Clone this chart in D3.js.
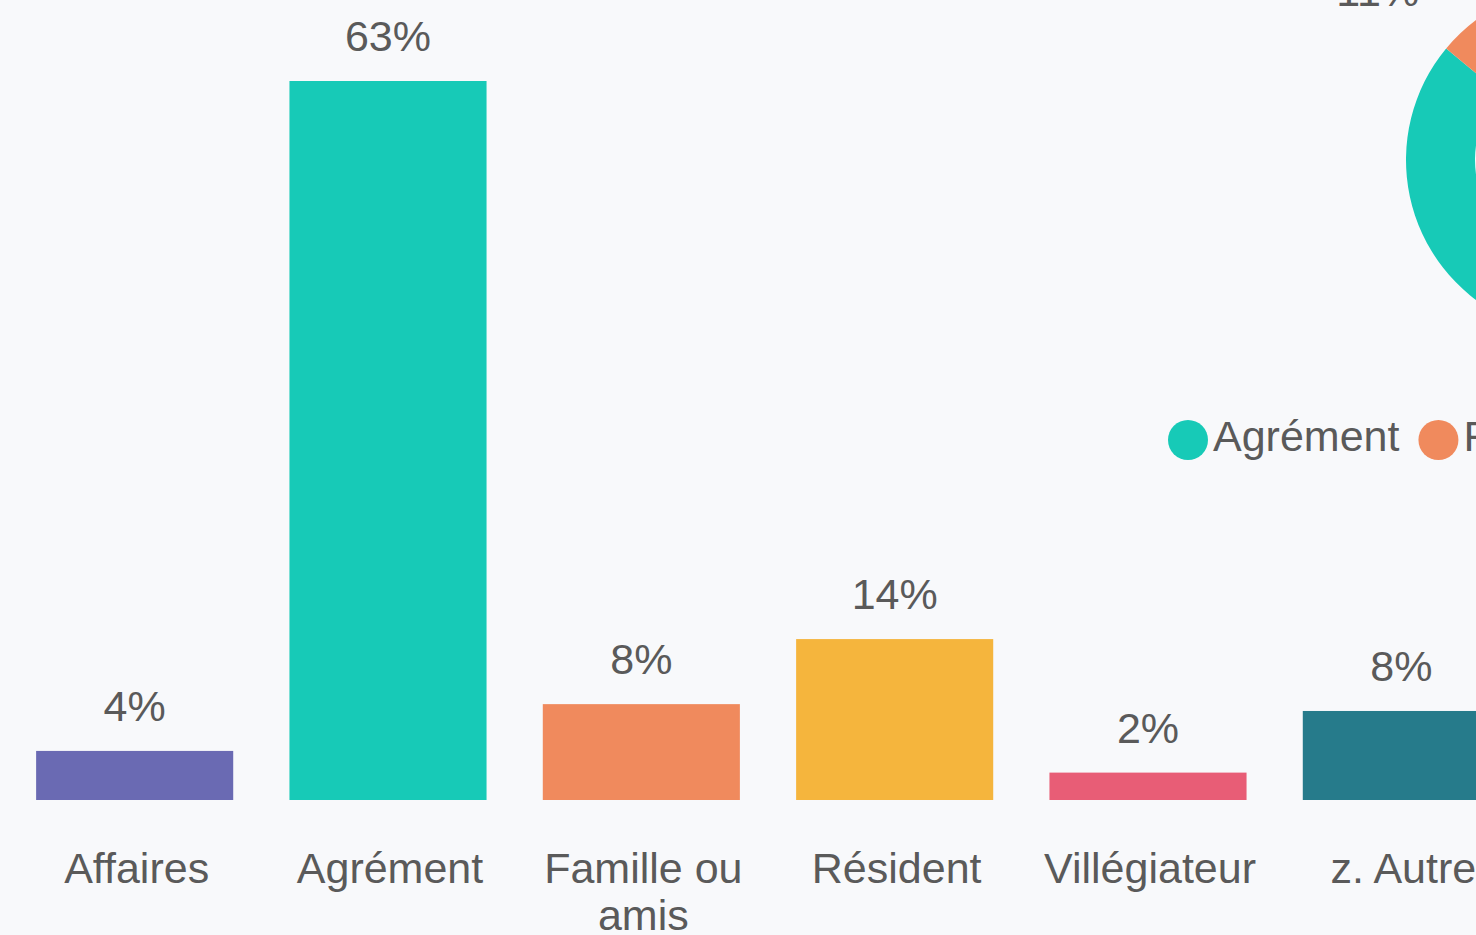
<!DOCTYPE html>
<html>
<head>
<meta charset="utf-8">
<script src="https://cdn.jsdelivr.net/npm/d3@7"></script>
<style>
  html, body { margin: 0; padding: 0; background: #f8f9fb; overflow: hidden; }
  svg { display: block; font-family: "Liberation Sans", Arial, sans-serif; }
</style>
</head>
<body>
<svg id="chart" width="1476" height="935"></svg>
<script>
// bar chart data
let categories = ["Affaires", "Agrément", "Famille ou amis", "Résident", "Villégiateur", "z. Autre"];
let values = [4.3, 63, 8.4, 14.1, 2.4, 7.8];
let colors = ["#6a6ab3", "#17cab7", "#f08a5d", "#f5b53d", "#e85d76", "#267b8b"];

// donut data
let pieLabels = ["Agrément", "Famille ou amis", "Résident"];
let pieValues = [86, 11, 3];
let pieColors = ["#17cab7", "#f08a5d", "#f5b53d"];

const textColor = "#5a5a5a";
const fontSize = 43;

let svg = d3.select("#chart");

// ---- bars ----
let x = d3.scaleBand()
    .domain(categories)
    .range([8, 1528])
    .paddingInner(0.222)
    .paddingOuter(0.111);

let y = d3.scaleLinear()
    .domain([0, d3.max(values)])
    .range([800, 81]);

let fmt = d => d3.format(".0f")(d) + "%";

let bars = svg.append("g").attr("class", "bars");

bars.selectAll("rect")
    .data(categories)
    .enter().append("rect")
    .attr("x", d => x(d))
    .attr("y", (d, i) => y(values[i]))
    .attr("width", x.bandwidth())
    .attr("height", (d, i) => y(0) - y(values[i]))
    .attr("fill", (d, i) => colors[i]);

bars.selectAll("text.val")
    .data(categories)
    .enter().append("text")
    .attr("class", "val")
    .attr("x", d => x(d) + x.bandwidth() / 2)
    .attr("y", (d, i) => y(values[i]) - 30)
    .attr("text-anchor", "middle")
    .attr("font-size", fontSize)
    .attr("fill", textColor)
    .text((d, i) => fmt(values[i]));

// category labels, wrapped to the band step
let cat = bars.selectAll("text.cat")
    .data(categories)
    .enter().append("text")
    .attr("class", "cat")
    .attr("x", d => x(d) + x.bandwidth() / 2 + 2)
    .attr("y", 883)
    .attr("text-anchor", "middle")
    .attr("font-size", fontSize)
    .attr("fill", textColor);

cat.each(function (d) {
    let el = d3.select(this);
    let cx = x(d) + x.bandwidth() / 2 + 2;
    let words = d.split(" ");
    let line = [];
    let tspan = el.append("tspan").attr("x", cx).attr("dy", 0);
    words.forEach(w => {
        line.push(w);
        tspan.text(line.join(" "));
        if (tspan.node().getComputedTextLength() > x.step() * 0.95 && line.length > 1) {
            line.pop();
            tspan.text(line.join(" "));
            line = [w];
            tspan = el.append("tspan").attr("x", cx).attr("dy", 47).text(w);
        }
    });
});

// ---- donut ----
const pcx = 1581, pcy = 160, outerR = 175, innerR = 106;

let pie = d3.pie().sort(null).value(d => d)(pieValues);
let arc = d3.arc().innerRadius(innerR).outerRadius(outerR);

let pg = svg.append("g").attr("transform", "translate(" + pcx + "," + pcy + ")");

pg.selectAll("path")
    .data(pie)
    .enter().append("path")
    .attr("d", arc)
    .attr("fill", (d, i) => pieColors[i]);

// outside labels: radial then horizontal offset
pg.selectAll("text")
    .data(pie)
    .enter().append("text")
    .each(function (d) {
        let a = (d.startAngle + d.endAngle) / 2;
        let r = outerR + 21;
        let px = Math.sin(a) * r, py = -Math.cos(a) * r;
        let left = px < 0;
        d3.select(this)
            .attr("x", px + (left ? -62 : 62))
            .attr("y", py)
            .attr("dy", "0.35em")
            .attr("text-anchor", left ? "end" : "start");
    })
    .attr("font-size", fontSize)
    .attr("fill", textColor)
    .text(d => d.data + "%");

// legend under the donut
let legend = svg.append("g").attr("class", "legend");
let items = legend.selectAll("g")
    .data(pieLabels)
    .enter().append("g");

items.append("circle")
    .attr("r", 20)
    .attr("cx", 20)
    .attr("cy", 440)
    .attr("fill", (d, i) => pieColors[i]);

items.append("text")
    .attr("x", 45)
    .attr("y", 451)
    .attr("font-size", fontSize)
    .attr("fill", textColor)
    .text(d => d);

let widths = [];
items.each(function () {
    widths.push(45 + d3.select(this).select("text").node().getComputedTextLength());
});
let gap = 19;
let start = 1168;
items.attr("transform", (d, i) => {
    let off = start + d3.sum(widths.slice(0, i)) + gap * i;
    return "translate(" + off + ",0)";
});
</script>
</body>
</html>
